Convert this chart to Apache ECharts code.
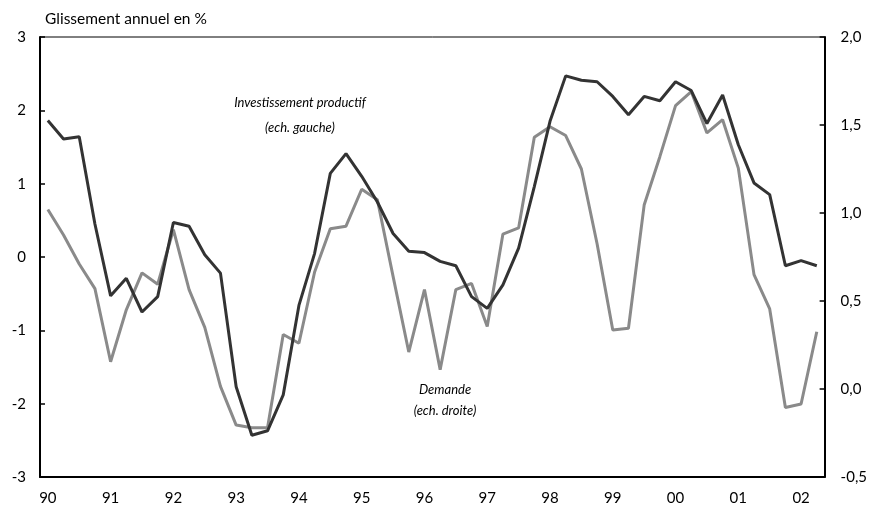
<!DOCTYPE html>
<html>
<head>
<meta charset="utf-8">
<script src="https://cdn.jsdelivr.net/npm/echarts@6/dist/echarts.min.js"></script>
<style>html,body{margin:0;padding:0;background:#fff}#c{width:870px;height:513px}</style>
</head>
<body>
<div id="c"></div>
<script>
// Quarterly categories 1990Q1 .. 2002Q2
const years = ['90','91','92','93','94','95','96','97','98','99','00','01','02'];
const quarters = [];
years.forEach(y => { for (let q = 1; q <= 4; q++) quarters.push(y + 'T' + q); });
const categories = quarters.slice(0, 50);

// Investissement productif (left axis, %)
const investissement = [
  1.86, 1.61, 1.64, 0.45, -0.53, -0.29, -0.75, -0.54,
  0.47, 0.42, 0.03, -0.22, -1.77, -2.43, -2.37, -1.88,
  -0.66, 0.05, 1.14, 1.41, 1.10, 0.75, 0.32, 0.08,
  0.06, -0.06, -0.12, -0.54, -0.70, -0.38, 0.12, 0.96,
  1.85, 2.47, 2.41, 2.39, 2.19, 1.94, 2.19, 2.13,
  2.39, 2.27, 1.82, 2.21, 1.53, 1.01, 0.85, -0.12,
  -0.05, -0.12
];

// Demande (right axis, %)
const demande = [
  1.02, 0.875, 0.71, 0.57, 0.155, 0.45, 0.66, 0.595,
  0.905, 0.565, 0.35, 0.015, -0.205, -0.22, -0.22, 0.31,
  0.26, 0.665, 0.91, 0.925, 1.135, 1.075, 0.64, 0.21,
  0.565, 0.11, 0.565, 0.60, 0.355, 0.88, 0.915, 1.43,
  1.49, 1.44, 1.25, 0.825, 0.335, 0.345, 1.045, 1.32,
  1.61, 1.69, 1.455, 1.53, 1.255, 0.65, 0.455, -0.105,
  -0.085, 0.325
];

const leftTicks = { min: -3, max: 3, interval: 1 };
const rightTicks = { min: -0.5, max: 2, interval: 0.5 };

const FONT = 'Lato';
const chart = echarts.init(document.getElementById('c'), null, { renderer: 'canvas' });
chart.setOption({
  animation: false,
  backgroundColor: '#fff',
  textStyle: { fontFamily: FONT },
  grid: { left: 40, right: 43, top: 37, bottom: 36, show: true, borderColor: '#000', borderWidth: 1, backgroundColor: 'transparent' },
  xAxis: {
    type: 'category',
    data: categories,
    boundaryGap: true,
    axisLine: { onZero: false, lineStyle: { color: '#000', width: 2 } },
    axisTick: { inside: true, length: 5, interval: 3, lineStyle: { color: '#000', width: 1.5 } },
    axisLabel: {
      interval: 3, margin: 14, color: '#000', fontSize: 15, fontFamily: FONT,
      formatter: v => v.split('T')[0]
    },
    splitLine: { show: false }
  },
  yAxis: [
    {
      type: 'value', position: 'left',
      min: leftTicks.min, max: leftTicks.max, interval: leftTicks.interval,
      axisLine: { show: true, lineStyle: { color: '#000', width: 2 } },
      axisTick: { show: true, inside: true, length: 5, lineStyle: { color: '#000', width: 1.5 } },
      axisLabel: { margin: 14, color: '#000', fontSize: 15, fontFamily: FONT },
      splitLine: { show: false }
    },
    {
      type: 'value', position: 'right',
      min: rightTicks.min, max: rightTicks.max, interval: rightTicks.interval,
      axisLine: { show: true, lineStyle: { color: '#000', width: 2 } },
      axisTick: { show: true, inside: true, length: 5, lineStyle: { color: '#000', width: 1.5 } },
      axisLabel: { margin: 16, color: '#000', fontSize: 15, fontFamily: FONT,
        formatter: v => v.toFixed(1).replace('.', ',') },
      splitLine: { show: false }
    }
  ],
  series: [
    {
      name: 'Demande', type: 'line', yAxisIndex: 1, data: demande,
      symbol: 'none', lineStyle: { color: '#8a8a8a', width: 3 }, itemStyle: { color: '#8a8a8a' }, z: 2
    },
    {
      name: 'Investissement productif', type: 'line', yAxisIndex: 0, data: investissement,
      symbol: 'none', lineStyle: { color: '#333333', width: 3 }, itemStyle: { color: '#333333' }, z: 3
    }
  ],
  graphic: [
    { type: 'text', left: 45, top: 11, style: { text: 'Glissement annuel en %', fill: '#000', font: '15.5px ' + FONT } },
    { type: 'text', x: 300, y: 103, style: { text: 'Investissement productif', fill: '#000', font: 'italic 13px ' + FONT, align: 'center', verticalAlign: 'middle' } },
    { type: 'text', x: 300, y: 128, style: { text: '(ech. gauche)', fill: '#000', font: 'italic 13px ' + FONT, align: 'center', verticalAlign: 'middle' } },
    { type: 'text', x: 445, y: 390, style: { text: 'Demande', fill: '#000', font: 'italic 13px ' + FONT, align: 'center', verticalAlign: 'middle' } },
    { type: 'text', x: 445, y: 411, style: { text: '(ech. droite)', fill: '#000', font: 'italic 13px ' + FONT, align: 'center', verticalAlign: 'middle' } }
  ]
});
</script>
</body>
</html>
